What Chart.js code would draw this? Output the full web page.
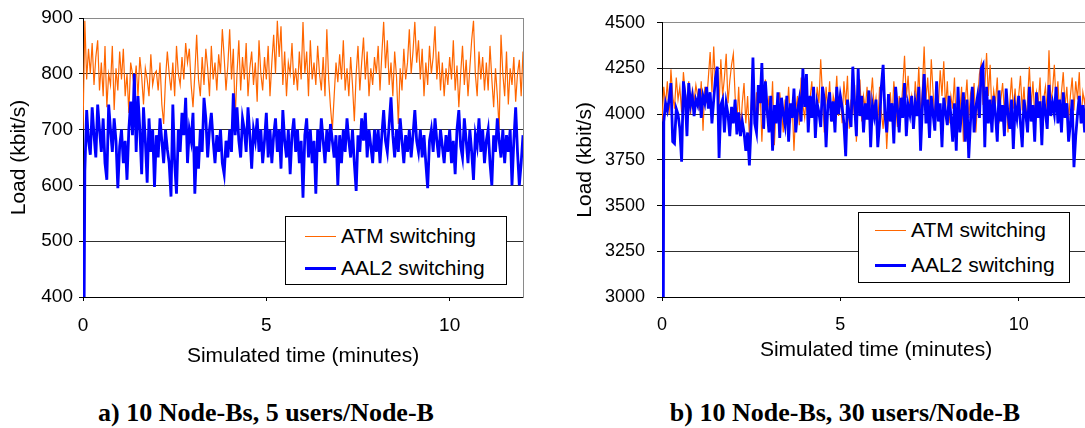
<!DOCTYPE html>
<html>
<head>
<meta charset="utf-8">
<script src="https://cdn.jsdelivr.net/npm/chart.js@4.4.1/dist/chart.umd.min.js"></script>
<style>
  html, body { margin:0; padding:0; background:#fff; overflow:hidden; width:1085px; height:428px; }
  #wrap { position:relative; width:1085px; height:428px; overflow:hidden; }
  canvas { position:absolute; top:0; }
  .legend { position:absolute; background:#fff; border:1px solid #000; box-sizing:border-box; font-family:"Liberation Sans", Arial, sans-serif; font-size:21px; color:#000; }
  .legend .row { position:absolute; height:24px; line-height:24px; white-space:nowrap; }
  .legend .swatch { position:absolute; top:50%; }
  .caption { position:absolute; font-family:"Liberation Serif", "Times New Roman", serif; font-weight:bold; font-size:26px; color:#000; white-space:nowrap; transform:translate(-50%,-50%); }
</style>
</head>
<body>
<div id="wrap">
  <canvas id="chartA" width="545" height="380" style="left:0px;width:545px;height:380px;"></canvas>
  <canvas id="chartB" width="540" height="380" style="left:560px;width:540px;height:380px;"></canvas>
  <div class="legend" style="left:285px;top:216px;width:222px;height:69px;">
    <div class="row" style="left:0;top:7px;width:220px;"><span class="swatch" style="left:19px;width:31px;height:1px;margin-top:0px;background:#ff6600;"></span><span style="position:absolute;left:55px;">ATM switching</span></div>
    <div class="row" style="left:0;top:39px;width:220px;"><span class="swatch" style="left:19px;width:31px;height:3px;margin-top:-1px;background:#0000ff;"></span><span style="position:absolute;left:55px;">AAL2 switching</span></div>
  </div>
  <div class="legend" style="left:858px;top:212px;width:212px;height:71px;">
    <div class="row" style="left:0;top:5px;width:210px;"><span class="swatch" style="left:16px;width:31px;height:1px;background:#ff6600;"></span><span style="position:absolute;left:52px;">ATM switching</span></div>
    <div class="row" style="left:0;top:40px;width:210px;"><span class="swatch" style="left:16px;width:31px;height:3px;margin-top:-1px;background:#0000ff;"></span><span style="position:absolute;left:52px;">AAL2 switching</span></div>
  </div>
  <div class="caption" style="left:266px;top:413px;">a) 10 Node-Bs, 5 users/Node-B</div>
  <div class="caption" style="left:845px;top:413px;">b) 10 Node-Bs, 30 users/Node-B</div>
</div>
<script>
// ---- Data ----
const SAMPLE_STEP_MIN = 0.05; // simulated-time sampling interval (minutes)

const seriesNames = ["ATM switching", "AAL2 switching"];
const xTickValues = [0, 5, 10];
const yTicksA = [400, 500, 600, 700, 800, 900];
const yTicksB = [3000, 3250, 3500, 3750, 4000, 4250, 4500];

// a) 10 Node-Bs, 5 users/Node-B
const atmA = [
  700, 895, 790, 845, 800, 855, 780, 830, 860, 770, 820, 760, 850, 740, 800, 780, 850, 735, 810, 770,
  840, 790, 845, 760, 800, 730, 820, 800, 775, 815, 760, 830, 795, 745, 810, 790, 760, 835, 780, 800,
  805, 770, 820, 745, 710, 790, 840, 800, 770, 820, 760, 850, 800, 780, 830, 790, 855, 820, 845, 780,
  740, 800, 870, 790, 760, 830, 780, 845, 810, 760, 850, 790, 820, 770, 835, 800, 880, 830, 770, 815,
  880, 790, 845, 720, 800, 860, 770, 830, 790, 855, 760, 810, 840, 780, 820, 750, 860, 800, 770, 830,
  790, 850, 760, 820, 870, 800, 895, 830, 885, 780, 840, 760, 820, 800, 855, 780, 810, 770, 840, 790,
  893, 800, 840, 760, 860, 790, 820, 780, 850, 800, 770, 830, 760, 880, 790, 740, 700, 760, 820, 785,
  835, 790, 860, 770, 810, 760, 830, 780, 715, 800, 850, 770, 820, 865, 790, 840, 760, 810, 780, 830,
  800, 850, 770, 835, 893, 810, 860, 780, 820, 760, 840, 795, 710, 810, 770, 845, 790, 820, 880, 800,
  840, 893, 820, 860, 790, 845, 760, 820, 780, 850, 800, 830, 885, 790, 840, 770, 820, 760, 810, 780,
  830, 790, 860, 770, 815, 740, 800, 850, 780, 825, 760, 810, 860, 895, 800, 760, 840, 790, 830, 770,
  820, 770, 850, 790, 740, 810, 760, 700, 870, 800, 760, 840, 745, 810, 780, 830, 750, 800, 825, 760, 840
];
const aal2A = [
  0, 625, 735, 680, 655, 740, 690, 650, 745, 700, 660, 720, 640, 610, 745, 700, 660, 720, 680, 595,
  670, 700, 640, 680, 610, 700, 750, 690, 800, 660, 760, 700, 620, 740, 680, 605, 720, 660, 700, 597,
  690, 650, 720, 680, 640, 700, 665, 640, 580, 745, 640, 585, 700, 660, 730, 690, 757, 640, 700, 680,
  730, 585, 670, 630, 700, 660, 757, 720, 650, 700, 730, 680, 640, 690, 660, 700, 640, 620, 680, 650,
  700, 660, 765, 690, 740, 680, 650, 720, 700, 660, 740, 690, 630, 700, 680, 720, 660, 700, 640, 680,
  730, 650, 700, 640, 690, 720, 660, 700, 630, 735, 680, 650, 700, 620, 690, 720, 660, 700, 640, 680,
  578, 690, 720, 650, 700, 640, 680, 585, 700, 660, 720, 680, 640, 700, 660, 710, 680, 650, 690, 600,
  690, 640, 700, 660, 720, 680, 650, 700, 640, 590, 690, 660, 720, 680, 730, 650, 700, 670, 640, 700,
  660, 700, 640, 690, 735, 680, 660, 710, 758, 690, 650, 700, 660, 720, 680, 640, 690, 660, 700, 650,
  690, 735, 680, 660, 700, 650, 690, 640, 595, 680, 700, 660, 720, 680, 650, 700, 670, 640, 690, 660,
  700, 640, 680, 620, 700, 735, 670, 650, 720, 680, 640, 700, 660, 610, 690, 670, 720, 660, 700, 640,
  680, 700, 640, 600, 690, 660, 720, 680, 650, 700, 640, 690, 660, 700, 600, 680, 740, 660, 600, 640, 690
];

// b) 10 Node-Bs, 30 users/Node-B
const atmB = [
  3960, 4150, 4050, 4180, 4000, 4245, 4100, 4030, 4200, 4080, 4150, 4010, 4230, 4120, 4060, 4180, 4000, 4130, 4070, 4160,
  4100, 4020, 4180, 3910, 4150, 4060, 4200, 4340, 4120, 4370, 4150, 4260, 4050, 4300, 4100, 4200, 4330, 4060, 4180, 4270,
  4330, 4100, 3950, 4150, 3900, 4060, 4170, 3950, 4100, 3880, 4050, 4200, 3960, 4120, 4000, 4150, 3850, 4080, 4190, 3980,
  4100, 3950, 4180, 3830, 4050, 3970, 4120, 4020, 3900, 4080, 3990, 4150, 3950, 4060, 3800, 4020, 4100, 3940, 4200, 4050,
  3980, 4120, 3930, 4080, 4180, 4010, 3950, 4150, 4060, 4300, 4100, 3900, 4150, 4020, 4180, 3960, 4100, 4050, 4210, 3990,
  4120, 3950, 4180, 4050, 4210, 3920, 4080, 4000, 4160, 3850, 4070, 4190, 3960, 4100, 4030, 4150, 3970, 4080, 4200, 4020,
  4090, 3940, 4150, 4010, 3920, 4080, 3810, 4000, 4120, 3970, 4180, 4060, 3930, 4100, 4020, 4150, 4320, 4090, 4210, 4040,
  4100, 3960, 4180, 4050, 4260, 3990, 4140, 4370, 4080, 4200, 4020, 4300, 4120, 3980, 4160, 4050, 4240, 4100, 4290, 4030,
  4180, 3950, 4100, 4030, 4200, 3920, 4080, 4010, 4150, 3850, 4060, 4190, 3980, 4110, 4040, 4170, 3900, 4080, 4220, 4280,
  4050, 4150, 4335, 4100, 4270, 3990, 4130, 4060, 4200, 3950, 4080, 4170, 4010, 4120, 3900, 4060, 4200, 4030, 4140, 3980,
  4100, 4210, 4020, 4150, 3960, 4080, 4260, 4040, 4180, 3990, 4120, 4060, 4200, 3920, 4080, 4150, 4010, 4350, 4070, 4130,
  4270, 4050, 4180, 3990, 4120, 4230, 4040, 4150, 3970, 4100, 4200, 4020, 4180, 4080, 4230, 3950, 4120, 4060, 4150, 4010, 4100
];
const aal2B = [
  0, 3960, 4060, 4020, 4080, 4170, 3850, 3840, 4030, 4000, 3920, 3740, 4180, 4100, 3880, 4170, 4050, 4100, 3990, 4080,
  4050, 4140, 3980, 4100, 4060, 4150, 4030, 4120, 3950, 4080, 4200, 4260, 3760, 4050, 4080, 3900, 4060, 4000, 3880, 4040,
  3950, 4080, 3890, 4010, 3880, 3960, 3900, 3800, 3900, 3720, 3950, 4310, 3950, 3900, 4160, 4060, 4280, 3920, 4180, 4020,
  3900, 4100, 3800, 4050, 3950, 4120, 3870, 4090, 4000, 3940, 4100, 3850, 4060, 3980, 4140, 3900, 4020, 4080, 3960, 4250,
  4040, 4220, 3900, 4100, 3980, 4150, 3870, 4060, 4010, 3930, 4150, 4080, 3820, 4050, 4120, 3960, 4070, 3900, 4150, 4000,
  4100, 4040, 3950, 3770, 4080, 4000, 3930, 4260, 4050, 3880, 4250, 3990, 4100, 3900, 4060, 3970, 4130, 3820, 4050, 3990,
  4080, 3820, 3950, 4150, 4270, 4000, 3900, 4110, 3960, 4060, 3840, 4150, 4030, 3900, 4090, 3980, 4170, 3880, 4050, 4000,
  4100, 3920, 4060, 3990, 4150, 3800, 4040, 4220, 3950, 4080, 3870, 4100, 4000, 3910, 4180, 3960, 4060, 3820, 4090, 4010,
  3940, 4100, 3990, 3850, 4060, 3800, 4150, 3900, 4010, 4120, 3850, 4080, 3760, 3960, 4150, 3900, 4040, 4100, 3980, 4250,
  4270, 3820, 4150, 3950, 4080, 3900, 4100, 4000, 3850, 4130, 3960, 4050, 3880, 4140, 4000, 3920, 4080, 3810, 4040, 3980,
  4100, 3950, 3820, 4080, 4000, 3900, 4150, 3960, 4050, 3850, 4120, 3980, 4070, 3830, 4100, 4010, 3920, 4160, 3990, 4060,
  4000, 4150, 3950, 4080, 3900, 4120, 3980, 4060, 3850, 3950, 4080, 3710, 3880, 4000, 4100, 3950, 4050, 3900, 4080, 3990, 4020
];

// sample times in minutes (fixed simulation output interval)
const timesA = atmA.map((_, i) => +(i * SAMPLE_STEP_MIN).toFixed(2));
const timesB = atmB.map((_, i) => +(i * SAMPLE_STEP_MIN).toFixed(2));

// ---- Chart builder ----
const SANS = '"Liberation Sans", Arial, sans-serif';

function makeChart(canvasId, cfg) {
  const gridColor = (c) => (c.tick && c.tick.value === cfg.yMax) ? '#8a8a8a' : '#303030';
  return new Chart(document.getElementById(canvasId), {
    type: 'line',
    data: {
      labels: cfg.times,
      datasets: [
        { label: seriesNames[1], data: cfg.aal2, borderColor: '#0000ff', borderWidth: 2.8, pointRadius: 0, tension: 0, order: 0 },
        { label: seriesNames[0], data: cfg.atm, borderColor: '#ff6600', borderWidth: 1.2, pointRadius: 0, tension: 0, order: 1 }
      ]
    },
    options: {
      responsive: false,
      animation: false,
      devicePixelRatio: 1,
      events: [],
      layout: { padding: { top: 18, right: cfg.padRight, left: 0, bottom: 0 } },
      plugins: { legend: { display: false }, tooltip: { enabled: false }, title: { display: false } },
      scales: {
        x: {
          type: 'linear', min: 0, max: 12,
          afterBuildTicks: (s) => { s.ticks = xTickValues.map(v => ({ value: v })); },
          ticks: { font: { family: SANS, size: cfg.tickFont }, color: '#000', padding: cfg.xTickPad, maxRotation: 0, callback: (v) => String(v) },
          grid: { drawOnChartArea: false, drawTicks: true, tickLength: 4, color: '#000', tickColor: '#000' },
          border: { display: true, color: '#000', width: 1 },
          title: { display: true, text: 'Simulated time (minutes)', font: { family: SANS, size: 21 }, color: '#000', padding: { top: 0, bottom: cfg.xTitlePad } },
          afterFit: (s) => { s.height = cfg.xAxisHeight; }
        },
        y: {
          min: cfg.yMin, max: cfg.yMax,
          afterBuildTicks: (s) => { s.ticks = cfg.yTicks.map(v => ({ value: v })); },
          ticks: { font: { family: SANS, size: cfg.tickFont }, color: '#000', padding: cfg.yTickPad, callback: (v) => String(v) },
          grid: { color: gridColor, lineWidth: 1, tickLength: cfg.yTickLen, tickColor: '#000' },
          border: { display: true, color: '#000', width: 1 },
          title: { display: true, text: 'Load (kbit/s)', font: { family: SANS, size: 21 }, color: '#000', padding: { top: cfg.yTitlePad, bottom: 0 } },
          afterFit: (s) => { s.width = cfg.yAxisWidth; }
        },
        yRight: {
          position: 'right', min: cfg.yMin, max: cfg.yMax,
          ticks: { display: false },
          grid: { drawOnChartArea: false, drawTicks: false },
          border: { display: true, color: '#8a8a8a', width: 1 },
          afterFit: (s) => { s.width = 0; }
        }
      }
    }
  });
}

makeChart('chartA', {
  times: timesA, atm: atmA, aal2: aal2A,
  yMin: 400, yMax: 900, yTicks: yTicksA,
  padRight: 22, yAxisWidth: 83, xAxisHeight: 83,
  tickFont: 19, yTickPad: 6, yTickLen: 4, xTickPad: 13, xTitlePad: 11, yTitlePad: 7
});

makeChart('chartB', {
  times: timesB, atm: atmB, aal2: aal2B,
  yMin: 3000, yMax: 4500, yTicks: yTicksB,
  padRight: 10, yAxisWidth: 102, xAxisHeight: 83,
  tickFont: 18, yTickPad: 12, yTickLen: 5, xTickPad: 13, xTitlePad: 17, yTitlePad: 13
});
</script>
</body>
</html>
